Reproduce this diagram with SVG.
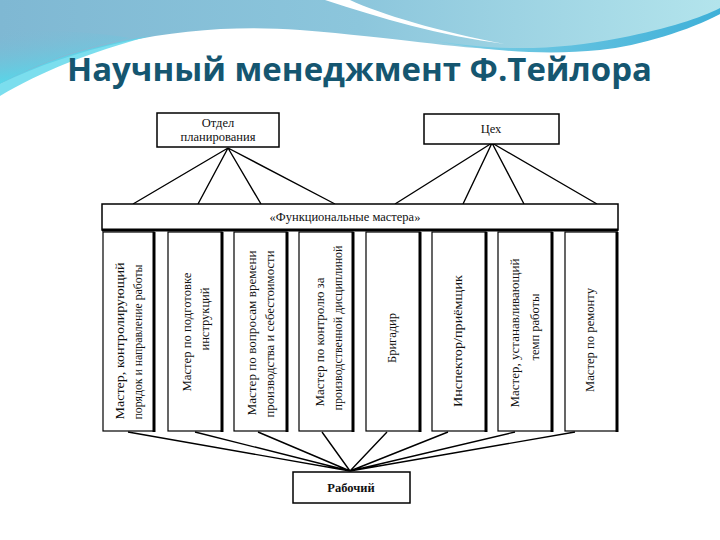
<svg xmlns="http://www.w3.org/2000/svg" width="720" height="540" viewBox="0 0 720 540">
<defs>
<linearGradient id="gTop" x1="0" y1="0" x2="1" y2="0">
<stop offset="0" stop-color="#7fb8d3"/>
<stop offset="0.5" stop-color="#8cc6dc"/>
<stop offset="1" stop-color="#b3e4ec"/>
</linearGradient>
<linearGradient id="gLeft" x1="0" y1="0" x2="0.3" y2="1">
<stop offset="0" stop-color="#7fb8d3" stop-opacity="0"/>
<stop offset="1" stop-color="#4fdced"/>
</linearGradient>
<linearGradient id="gBand" x1="0" y1="0" x2="1" y2="0">
<stop offset="0" stop-color="#7fd0e6"/>
<stop offset="1" stop-color="#3fb0d8"/>
</linearGradient>
<style>
.box{fill:#fff;stroke:#000;stroke-width:1.5}
.col{fill:#fff;stroke:#000;stroke-width:1.2}
.edge{stroke:#000;stroke-width:3}
.ln{stroke:#000;stroke-width:1.4;fill:none}
.t{font-family:'Liberation Serif','DejaVu Serif','Times New Roman',serif;font-size:12.5px;fill:#111;text-anchor:middle}
.title{font-family:'Open Sans','Liberation Sans',sans-serif;font-weight:bold;font-size:33px;fill:#155670}
</style>
</defs>
<rect x="0" y="0" width="720" height="540" fill="#fff"/>
<path d="M0,0 H720 V14 C680,32 600,52 510,50 C450,48 400,38 300,30 C200,22 90,40 0,84 Z" fill="url(#gTop)"/>
<path d="M0,30 C0,50 0,70 0,84 C40,62 80,48 130,38 C80,30 30,30 0,30 Z" fill="url(#gLeft)"/>
<path d="M0,84 C40,62 90,46 150,36 C90,52 40,72 0,96 Z" fill="#5ad6ea" opacity="0.8"/>
<path d="M325,0 C380,18 440,36 505,44 C440,32 380,14 350,0 Z" fill="#ffffff"/>
<path d="M430,40 C500,52 560,50 620,38 C670,28 700,18 720,8 V14 C690,30 640,46 600,50 C540,56 480,50 430,40 Z" fill="url(#gBand)"/>
<text class="title" x="67" y="81" textLength="585" lengthAdjust="spacingAndGlyphs">Научный менеджмент Ф.Тейлора</text>

<g id="connectors">
<path class="ln" d="M228,148 L133,204 M228,148 L198,204 M228,148 L261,204 M228,148 L335,204"/>
<path class="ln" d="M492,143 L395,204 M492,143 L463,204 M492,143 L524,204 M492,143 L597,204"/>
<path class="ln" d="M128,432 L350,471 M195,432 L350,471 M258,432 L350,471 M322,432 L350,471 M387,432 L350,471 M448,432 L350,471 M515,432 L350,471 M575,432 L350,471"/>
</g>

<g id="planning">
<rect class="box" x="157" y="113" width="122" height="34"/>
<text class="t" x="218" y="127" font-family="Liberation Serif, serif">Отдел</text>
<text class="t" x="218" y="141" font-family="Liberation Serif, serif">планирования</text>
</g>
<g id="tseh">
<rect class="box" x="424" y="114" width="135" height="30"/>
<text class="t" x="491" y="133" font-family="Liberation Serif, serif">Цех</text>
</g>
<g id="functional">
<rect class="box" x="102" y="204" width="516" height="26"/>
<line class="edge" x1="102" y1="230" x2="618" y2="230"/>
<text class="t" x="345" y="221" font-family="Liberation Serif, serif">«Функциональные мастера»</text>
</g>

<g id="m1" font-family="Liberation Serif, serif">
<rect class="col" x="103" y="232" width="51" height="199"/>
<line class="edge" x1="154" y1="232" x2="154" y2="432"/>
<text class="t" transform="translate(124,341) rotate(-90)" textLength="157" lengthAdjust="spacingAndGlyphs">Мастер, контролирующий</text>
<text class="t" transform="translate(141.5,342) rotate(-90)" textLength="155" lengthAdjust="spacingAndGlyphs">порядок и направление работы</text>
</g>
<g id="m2">
<rect class="col" x="168" y="232" width="54" height="199"/>
<line class="edge" x1="222" y1="232" x2="222" y2="432"/>
<text class="t" transform="translate(191,332) rotate(-90)" textLength="119" lengthAdjust="spacingAndGlyphs">Мастер по подготовке</text>
<text class="t" transform="translate(209,319) rotate(-90)">инструкций</text>
</g>
<g id="m3">
<rect class="col" x="234" y="232" width="53" height="199"/>
<line class="edge" x1="287" y1="232" x2="287" y2="432"/>
<text class="t" transform="translate(256,333) rotate(-90)" textLength="165" lengthAdjust="spacingAndGlyphs">Мастер по вопросам времени</text>
<text class="t" transform="translate(274,334) rotate(-90)" textLength="167" lengthAdjust="spacingAndGlyphs">производства и себестоимости</text>
</g>
<g id="m4">
<rect class="col" x="299" y="232" width="54" height="199"/>
<line class="edge" x1="353" y1="232" x2="353" y2="432"/>
<text class="t" transform="translate(324,342) rotate(-90)" textLength="129" lengthAdjust="spacingAndGlyphs">Мастер по контролю за</text>
<text class="t" transform="translate(342,328) rotate(-90)" textLength="165" lengthAdjust="spacingAndGlyphs">производственной дисциплиной</text>
</g>
<g id="m5">
<rect class="col" x="366" y="232" width="54" height="199"/>
<line class="edge" x1="420" y1="232" x2="420" y2="432"/>
<text class="t" transform="translate(396,338) rotate(-90)">Бригадир</text>
</g>
<g id="m6">
<rect class="col" x="432" y="232" width="54" height="199"/>
<line class="edge" x1="486" y1="232" x2="486" y2="432"/>
<text class="t" transform="translate(462,341) rotate(-90)" textLength="132" lengthAdjust="spacingAndGlyphs">Инспектор/приёмщик</text>
</g>
<g id="m7">
<rect class="col" x="498" y="232" width="54" height="199"/>
<line class="edge" x1="552" y1="232" x2="552" y2="432"/>
<text class="t" transform="translate(519,333) rotate(-90)" textLength="149" lengthAdjust="spacingAndGlyphs">Мастер, устанавливающий</text>
<text class="t" transform="translate(539,327) rotate(-90)">темп работы</text>
</g>
<g id="m8">
<rect class="col" x="565" y="232" width="52" height="199"/>
<line class="edge" x1="617" y1="232" x2="617" y2="432"/>
<text class="t" transform="translate(594,340) rotate(-90)" textLength="104" lengthAdjust="spacingAndGlyphs">Мастер по ремонту</text>
</g>

<g id="worker">
<rect class="box" x="293" y="472" width="117" height="31"/>
<text class="t" x="351" y="492" font-weight="bold" font-size="11.5">Рабочий</text>
</g>
</svg>
